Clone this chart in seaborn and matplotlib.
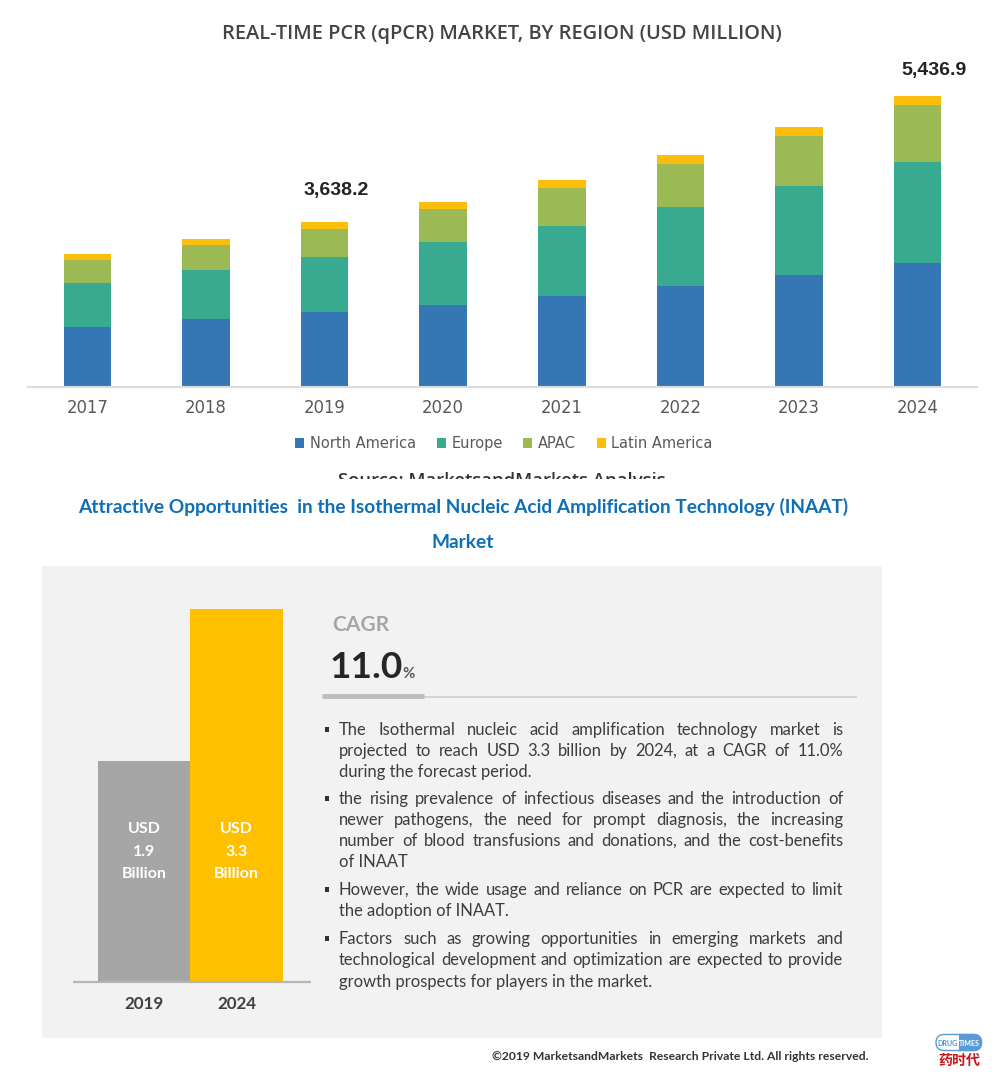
import numpy as np
import pandas as pd
import matplotlib
matplotlib.use("Agg")
import matplotlib.pyplot as plt
from matplotlib.patches import Rectangle, FancyBboxPatch
from matplotlib.transforms import Bbox
import seaborn as sns

# ---- data ----
years = ["2017", "2018", "2019", "2020", "2021", "2022", "2023", "2024"]
north_america = [1128, 1266, 1397, 1533, 1696, 1889, 2094, 2324.0]
europe = [823, 916, 1029, 1178, 1315, 1471, 1664, 1881.0]
apac = [419, 468, 535, 611, 711, 815, 935, 1059.0]
latin_america = [112, 112, 125, 137, 137, 157, 163, 172.9]
region_names = ["North America", "Europe", "APAC", "Latin America"]
region_colors = ["#3576b5", "#38aa90", "#9bb955", "#fcbe0a"]
label_2019 = "3,638.2"
label_2024 = "5,436.9"

inaat_years = ["2019", "2024"]
inaat_values = [1.95, 3.3]
inaat_colors = ["#a6a6a6", "#ffc000"]
inaat_labels = [["USD", "1.9", "Billion"], ["USD", "3.3", "Billion"]]

title_top = "REAL-TIME PCR (qPCR) MARKET, BY REGION (USD MILLION)"
source_text = "Source: MarketsandMarkets Analysis"
title_blue = ["Attractive Opportunities  in the Isothermal Nucleic Acid Amplification Technology (INAAT)", "Market"]
bullets = [
    ("The Isothermal nucleic acid amplification technology market is", True, True, 729),
    ("projected to reach USD 3.3 billion by 2024, at a CAGR of 11.0%", False, True, 750),
    ("during the forecast period.", False, False, 771),
    ("the rising prevalence of infectious diseases and the introduction of", True, True, 798),
    ("newer pathogens, the need for prompt diagnosis, the increasing", False, True, 819),
    ("number of blood transfusions and donations, and the cost-benefits", False, True, 840),
    ("of INAAT", False, False, 861),
    ("However, the wide usage and reliance on PCR are expected to limit", True, True, 889),
    ("the adoption of INAAT.", False, False, 910),
    ("Factors such as growing opportunities in emerging markets and", True, True, 938),
    ("technological development and optimization are expected to provide", False, True, 959),
    ("growth prospects for players in the market.", False, False, 981),
]
footer = "©2019 MarketsandMarkets  Research Private Ltd. All rights reserved."

W, H = 1005, 1080
sns.set_theme(style="white")
plt.rcParams["font.family"] = ["Lato", "DejaVu Sans"]
PX = 0.72  # points per pixel at dpi 100

fig = plt.figure(figsize=(W / 100, H / 100), dpi=100, facecolor="white")

# overlay in pixel units, holds the panel and free text
page = fig.add_axes([0, 0, 1, 1], zorder=0)
page.set_xlim(0, W)
page.set_ylim(H, 0)
page.axis("off")


def axes_rect(x0, y0, x1, y1):
    return [x0 / W, 1 - y1 / H, (x1 - x0) / W, (y1 - y0) / H]


# ---- top stacked chart ----
ax = fig.add_axes(axes_rect(28, 96, 977, 387), zorder=1)
ax.patch.set_alpha(0)
layers = np.array([north_america, europe, apac, latin_america])
cumulative = np.cumsum(layers, axis=0)
for idx in range(3, -1, -1):
    frame = pd.DataFrame({"year": years, "value": cumulative[idx]})
    sns.barplot(data=frame, x="year", y="value", color=region_colors[idx], saturation=1,
                width=0.4, label=region_names[idx], ax=ax, errorbar=None, linewidth=0)
ax.set_xlim(-0.5, 7.5)
ax.set_ylim(0, cumulative[3].max())
ax.set_xlabel("")
ax.set_ylabel("")
ax.set_yticks([])
sns.despine(ax=ax, left=True)
ax.spines["bottom"].set_color("#dcdcdc")
ax.spines["bottom"].set_linewidth(1.5)
ax.tick_params(axis="x", length=0, pad=8.5, labelsize=16.5 * PX, labelcolor="#595959")
for t in ax.get_xticklabels():
    t.set_fontfamily("DejaVu Sans")
handles, labels = ax.get_legend_handles_labels()
ax.legend(handles[::-1], labels[::-1], ncol=4, frameon=False, loc="center",
          bbox_to_anchor=(504, 443.5), bbox_transform=page.transData,
          prop={"family": "DejaVu Sans", "size": 14.6 * PX}, labelcolor="#595959",
          handlelength=0.62, handleheight=0.62, handletextpad=0.4, columnspacing=1.4)

page.text(501.5, 33.5, title_top, ha="center", va="center", fontsize=20 * PX,
          color="#444444", fontweight="semibold", family="Open Sans")
page.text(336, 190, label_2019, ha="center", va="center", fontsize=19.5 * PX,
          color="#222222", family="Liberation Sans", fontweight="bold")
page.text(934, 70, label_2024, ha="center", va="center", fontsize=19.5 * PX,
          color="#222222", family="Liberation Sans", fontweight="bold")
src = page.text(502, 472, source_text, ha="center", va="top", fontsize=18.5 * PX,
                color="#333333", family="Open Sans", fontweight="semibold")
src.set_clip_box(Bbox([[0, H - 479], [W, H - 460]]))
src.set_clip_on(True)

# ---- blue title ----
page.text(463, 507, title_blue[0], ha="center", va="center", fontsize=19.15 * PX,
          color="#0f6fb5", fontweight="bold", family="Lato")
page.text(463, 543, title_blue[1], ha="center", va="center", fontsize=19.15 * PX,
          color="#0f6fb5", fontweight="bold", family="Lato")

# ---- lower panel ----
page.add_patch(Rectangle((42, 566), 840, 472, facecolor="#f2f2f2", edgecolor="none"))

bx = fig.add_axes(axes_rect(73, 609, 311, 981.7), zorder=1)
bx.patch.set_alpha(0)
sns.barplot(x=inaat_years, y=inaat_values, hue=inaat_years, palette=inaat_colors, saturation=1,
            width=1.0, dodge=False, legend=False, ax=bx, errorbar=None, linewidth=0)
unit = 92.5
bx.set_xlim(-(144 - 73) / unit, (311 - 144) / unit)
bx.set_ylim(0, max(inaat_values))
bx.set_yticks([])
sns.despine(ax=bx, left=True)
bx.spines["bottom"].set_color("#b5b5b5")
bx.spines["bottom"].set_linewidth(1.6)
bx.spines["bottom"].set_capstyle("butt")
bx.tick_params(axis="x", length=0, pad=10, labelsize=17 * PX, labelcolor="#404040")
for t in bx.get_xticklabels():
    t.set_fontweight("bold")
for cx, lines in zip([144, 236.5], inaat_labels):
    for yy, s in zip([829, 851.5, 874], lines):
        fig.text(cx / W, 1 - yy / H, s, ha="center", va="center", fontsize=16 * PX,
                 color="white", fontweight="bold", zorder=5)

page.text(332, 625, "CAGR", ha="left", va="center", fontsize=21 * PX, color="#a6a6a6",
          fontweight="bold")
page.text(330, 667, "11.0", ha="left", va="center", fontsize=37 * PX, color="#262626",
          fontweight="bold")
page.text(402.5, 674, "%", ha="left", va="center", fontsize=15 * PX, color="#595959",
          fontweight="bold")
page.plot([424, 857], [697, 697], color="#cfcfcf", lw=1.2, solid_capstyle="butt")
page.plot([322, 424], [696, 696], color="#bdbdbd", lw=3.5, solid_capstyle="butt")

# justified body text
renderer = fig.canvas.get_renderer()
body_kw = dict(fontsize=16.5 * PX, color="#3d3d3d", va="center", ha="left")
LEFT, RIGHT = 339, 843
for line, has_bullet, justify, yy in bullets:
    yy = yy + 1
    if has_bullet:
        page.add_patch(Rectangle((325, yy - 3), 4, 4.5, facecolor="#333333", edgecolor="none"))
    if not justify:
        page.text(LEFT, yy, line, **body_kw)
        continue
    words = line.split(" ")
    items = [page.text(LEFT, yy, w, **body_kw) for w in words]
    widths = [t.get_window_extent(renderer).width for t in items]
    gap = (RIGHT - LEFT - sum(widths)) / (len(words) - 1)
    xpos = LEFT
    for t, w in zip(items, widths):
        t.set_x(xpos)
        xpos += w + gap

page.text(868, 1057, footer, ha="right", va="center", fontsize=12.1 * PX, color="#333333", fontweight="bold")

# ---- logo ----
page.add_patch(FancyBboxPatch((936, 1034.5), 45.5, 16, boxstyle="round,pad=0,rounding_size=8",
                              facecolor="white", edgecolor="#5b9bd5", lw=1))
right_half = FancyBboxPatch((936, 1034.5), 45.5, 16, boxstyle="round,pad=0,rounding_size=8",
                            facecolor="#5b9bd5", edgecolor="#5b9bd5", lw=1)
page.add_patch(right_half)
right_half.set_clip_path(Rectangle((958.5, 1030), 30, 25, transform=page.transData))
page.text(948, 1043, "DRUG", ha="center", va="center", fontsize=7 * PX, color="#4a90d0",
          fontweight="bold")
page.text(969.5, 1043, "TIMES", ha="center", va="center", fontsize=7 * PX, color="white",
          fontweight="bold")
page.text(959, 1060.5, "药时代", ha="center", va="center", fontsize=14 * PX, color="#c8161d",
          family="Noto Sans CJK SC", fontweight="bold")

fig.savefig("out.png", dpi=100, facecolor="white")
